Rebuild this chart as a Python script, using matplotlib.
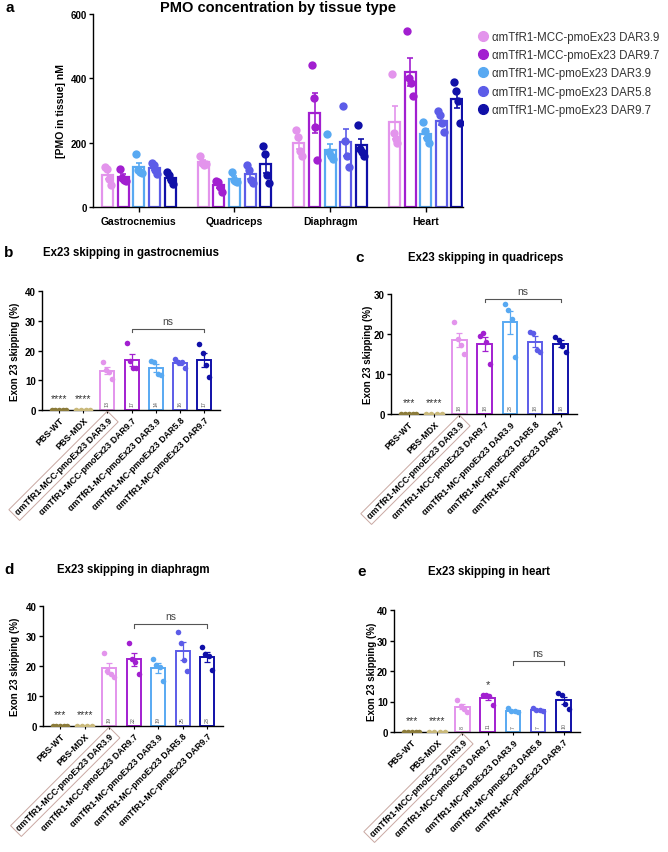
import numpy as np
import matplotlib.pyplot as plt
from matplotlib.lines import Line2D

plt.rcParams['font.family'] = ['Liberation Sans', 'DejaVu Sans']
plt.rcParams['axes.linewidth'] = 1.0

# ---- data ----
tissues = ["Gastrocnemius", "Quadriceps", "Diaphragm", "Heart"]
conjugates = ["αmTfR1-MCC-pmoEx23 DAR3.9", "αmTfR1-MCC-pmoEx23 DAR9.7",
              "αmTfR1-MC-pmoEx23 DAR3.9", "αmTfR1-MC-pmoEx23 DAR5.8",
              "αmTfR1-MC-pmoEx23 DAR9.7"]
conj_colors = ["#E394EC", "#A21FD0", "#58A9F2", "#5C5CE8", "#1010A8"]
pbs_groups = ["PBS-WT", "PBS-MDX"]
pbs_colors = ["#8B7B3A", "#C9B97A"]

# panel a: [PMO in tissue] nM, per tissue (gastro, quad, diaphragm, heart)
pmo_mcc_39 = [[124, 119, 88, 67], [158, 136, 130, 135], [238, 218, 175, 160], [415, 230, 210, 200]]
pmo_mcc_97 = [[118, 90, 85, 80], [82, 78, 62, 48], [440, 338, 248, 147], [548, 400, 385, 345]]
pmo_mc_39 = [[165, 115, 110, 105], [110, 85, 80, 77], [228, 170, 160, 150], [265, 235, 215, 198]]
pmo_mc_58 = [[137, 130, 115, 103], [132, 114, 85, 75], [315, 205, 160, 125], [297, 285, 260, 232]]
pmo_mc_97 = [[110, 98, 85, 72], [190, 165, 100, 75], [255, 180, 170, 160], [388, 362, 330, 262]]

# panels b-e: exon 23 skipping (%), groups = PBS-WT, PBS-MDX, then the 5 conjugates
skip_gastro = [[0.1, 0.1, 0.1, 0.1, 0.1], [0.1, 0.1, 0.1, 0.1],
               [16.0, 13.5, 12.8, 10.5], [22.4, 16.5, 14.0, 14.2], [16.5, 16.2, 12.0, 11.6],
               [17.0, 16.3, 16.1, 14.0], [22.1, 19.2, 15.0, 11.2]]
skip_quad = [[0.1, 0.1, 0.1, 0.1, 0.1], [0.1, 0.1, 0.1, 0.1],
             [23.0, 18.8, 17.2, 15.0], [19.4, 20.3, 18.0, 12.4], [27.5, 26.0, 23.8, 14.3],
             [20.6, 20.2, 16.0, 15.6], [19.2, 18.6, 16.9, 15.5]]
skip_diaph = [[0.1, 0.1, 0.1, 0.1, 0.1], [0.1, 0.1, 0.1, 0.1],
              [24.4, 18.5, 17.4, 16.5], [27.8, 22.5, 21.5, 17.3], [22.5, 20.2, 19.8, 14.9],
              [31.5, 27.8, 22.1, 18.5], [26.2, 24.0, 23.4, 18.7]]
skip_heart = [[0.1, 0.1, 0.1, 0.1, 0.1], [0.1, 0.1, 0.1, 0.1],
              [10.6, 8.5, 7.5, 6.6], [12.1, 12.1, 11.7, 9.0], [7.8, 6.8, 6.8, 6.5],
              [7.8, 7.2, 7.2, 7.0], [12.8, 12.0, 9.2, 7.6]]

pbs_stars = {"b": ["****", "****"], "c": ["***", "****"], "d": ["***", "****"], "e": ["***", "****"]}
ns_pairs = {"b": (3, 6), "c": (3, 6), "d": (3, 6), "e": (4, 6)}
ns_height = {"b": 27.3, "c": 28.8, "d": 33.9, "e": 23.2}

W, H = 668, 853
fig = plt.figure(figsize=(W / 100, H / 100), dpi=100)


def px_axes(l, t, r, b):
    return fig.add_axes([l / W, 1 - b / H, (r - l) / W, (b - t) / H])


def fig_text(x, y, s, **kw):
    fig.text(x / W, 1 - y / H, s, **kw)


def sem(v):
    v = np.asarray(v, float)
    return v.std(ddof=1) / np.sqrt(len(v))


def style_axes(ax, size=7):
    for s in ("top", "right"):
        ax.spines[s].set_visible(False)
    ax.tick_params(axis="y", labelsize=size, width=1.0, length=3, pad=1.5)
    for t in ax.get_yticklabels():
        t.set_fontweight("bold")


# ---- panel a ----
ax = px_axes(93, 15, 463, 208)
series = [pmo_mcc_39, pmo_mcc_97, pmo_mc_39, pmo_mc_58, pmo_mc_97]
step = 0.163
bw = 0.115
offs4 = np.array([-0.03, -0.01, 0.01, 0.03])
for k, (vals, col) in enumerate(zip(series, conj_colors)):
    for g, v in enumerate(vals):
        x = g + (k - 2) * step
        m = np.mean(v)
        ax.bar(x, m, width=bw, facecolor="white", edgecolor=col, linewidth=1.6, zorder=2)
        ax.errorbar(x, m, yerr=sem(v), color=col, capsize=2.5, elinewidth=1.2,
                    capthick=1.2, zorder=3)
        ax.scatter(x + offs4, v, s=36, color=col, zorder=4, linewidths=0)
ax.set_xlim(-0.48, 3.39)
ax.set_ylim(0, 600)
ax.set_yticks([0, 200, 400, 600])
ax.set_xticks(range(4))
ax.set_xticklabels(tissues, fontsize=7.5, fontweight="bold")
ax.tick_params(axis="x", width=1.0, length=3.5, pad=3)
style_axes(ax, 7)
ax.set_ylabel("[PMO in tissue] nM", fontsize=7.5, fontweight="bold", labelpad=3)
ax.set_title("PMO concentration by tissue type", fontsize=10.5, fontweight="bold", pad=2)
fig_text(5, 8, "a", fontsize=11, fontweight="bold", va="center")

handles = [Line2D([], [], marker="o", ls="", color=c, markersize=7) for c in conj_colors]
fig.legend(handles, conjugates, loc="upper left", bbox_to_anchor=(471 / W, 1 - 27 / H),
           frameon=False, fontsize=8.3, handletextpad=0.2, labelspacing=0.55,
           borderaxespad=0, handlelength=1.2, labelcolor="#333333")


# ---- panels b-e ----
def skip_panel(box, data, ytop, key, title, title_xy, letter_xy, ylab_x):
    ax = px_axes(*box)
    cols = pbs_colors + conj_colors
    names = pbs_groups + conjugates
    for i, (v, col) in enumerate(zip(data, cols)):
        m = np.mean(v)
        n = len(v)
        offs = np.linspace(-0.3, 0.3, n) if i < 2 else np.array([-0.2, -0.07, 0.07, 0.2])
        if i >= 2:
            ax.bar(i, m, width=0.57, facecolor="white", edgecolor=col, linewidth=1.4, zorder=2)
            ax.errorbar(i, m, yerr=sem(v), color=col, capsize=2.5, elinewidth=0.9,
                        capthick=0.9, zorder=3)
            ax.text(i, ytop * 0.03, f"{m:.0f}", rotation=90, fontsize=3.8, color="#555555",
                    ha="center", va="bottom", zorder=5)
        ax.scatter(i + offs, v, s=16, color=col, zorder=4, linewidths=0)
    for i, s in enumerate(pbs_stars[key]):
        ax.text(i, ytop * 0.06, s, ha="center", va="bottom", fontsize=7.5, color="#333333")
    a, b = ns_pairs[key]
    yb = ns_height[key]
    ax.plot([a, a, b, b], [yb - ytop * 0.03, yb, yb, yb - ytop * 0.03], color="#555555",
            lw=0.8, clip_on=False)
    ax.text((a + b) / 2, yb + ytop * 0.025, "ns", ha="center", va="bottom", fontsize=7.5,
            color="#444444", clip_on=False)
    ax.set_xlim(-0.7, 6.65)
    ax.set_ylim(0, ytop)
    ax.set_yticks(np.arange(0, ytop + 1, 10))
    ax.set_xticks(range(len(names)))
    ax.set_xticklabels(names, rotation=45, ha="right", rotation_mode="anchor",
                       fontsize=6.4, fontweight="bold")
    ax.tick_params(axis="x", width=0.8, length=2, pad=2)
    ax.get_xticklabels()[2].set_bbox(dict(boxstyle="square,pad=0.35", fc="none",
                                          ec="#C9A8A2", lw=0.7))
    style_axes(ax, 7)
    fig.text(ylab_x / W, 1 - (box[1] + box[3]) / 2 / H, "Exon 23 skipping (%)", rotation=90,
             fontsize=7, fontweight="bold", ha="center", va="center")
    fig_text(*title_xy, title, fontsize=8.3, fontweight="bold", ha="center", va="center")
    fig_text(*letter_xy, key, fontsize=11, fontweight="bold", va="center")
    return ax


skip_panel((42, 292, 220, 411), skip_gastro, 40, "b", "Ex23 skipping in gastrocnemius",
           (131, 253), (4, 253), 15)
skip_panel((391, 295, 577, 415), skip_quad, 30, "c", "Ex23 skipping in quadriceps",
           (486, 258), (355, 258), 368)
skip_panel((43, 607, 223, 727), skip_diaph, 40, "d", "Ex23 skipping in diaphragm",
           (133, 570), (4, 570), 15)
ax_e = skip_panel((394, 611, 580, 733), skip_heart, 40, "e", "Ex23 skipping in heart",
                  (489, 572), (357, 572), 372)
ax_e.text(3, np.mean(skip_heart[3]) + 3.0, "*", ha="center", va="bottom", fontsize=8,
          color="#333333")

fig.savefig("out.png", dpi=100)
